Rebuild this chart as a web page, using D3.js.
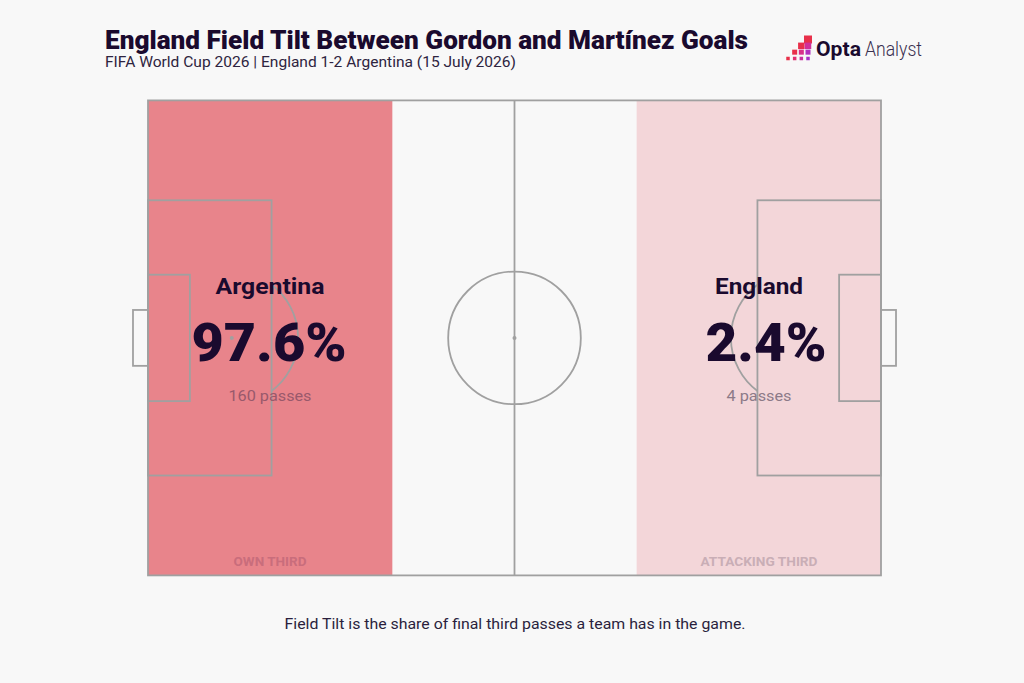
<!DOCTYPE html>
<html><head><meta charset="utf-8">
<script src="https://cdn.jsdelivr.net/npm/d3@7"></script>
<style>html,body{margin:0;padding:0;background:#f8f8f8}svg{display:block}text{font-family:Roboto,sans-serif}</style>
</head><body><svg id="c" width="1024" height="683"></svg>
<script>
const teams=["Argentina","England"];
const tiltPct=[97.6,2.4];
const passes=[160,4];
const zoneLabels=["OWN THIRD","ATTACKING THIRD"];
const zoneColors=["#e8848b","#f3d6d9"];
const thirds=[[0,35],[70,105]];
const title="England Field Tilt Between Gordon and Martínez Goals";
const subtitle="FIFA World Cup 2026 | England 1-2 Argentina (15 July 2026)";
const note="Field Tilt is the share of final third passes a team has in the game.";
const pitchLen=105,pitchWid=68;
const penBox=[17.7,39.4],sixBox=[6,18.1],goalW=8,goalD=2.15,circR=9.5,spot=12;
const ink="#1a0a2e",line="#a0a0a0";
const svg=d3.select("#c");
const x=d3.scaleLinear().domain([0,pitchLen]).range([148,881]);
const y=d3.scaleLinear().domain([0,pitchWid]).range([100.4,575.4]);
const rs=d3.scaleLinear().domain([0,pitchLen]).range([0,733]);
const my=pitchWid/2;
svg.selectAll(".third").data(thirds).join("rect")
 .attr("x",d=>x(d[0])).attr("y",y(0)).attr("width",d=>x(d[1])-x(d[0])).attr("height",y(pitchWid)-y(0))
 .attr("fill",(d,i)=>zoneColors[i]);
const g=svg.append("g").attr("fill","none").attr("stroke",line).attr("stroke-width",1.8);
const R=(x0,x1,y0,y1)=>g.append("rect").attr("x",x(x0)).attr("y",y(y0)).attr("width",x(x1)-x(x0)).attr("height",y(y1)-y(y0));
R(0,pitchLen,0,pitchWid);
g.append("line").attr("x1",x(pitchLen/2)).attr("x2",x(pitchLen/2)).attr("y1",y(0)).attr("y2",y(pitchWid));
g.append("circle").attr("cx",x(pitchLen/2)).attr("cy",y(my)).attr("r",rs(circR));
svg.append("circle").attr("cx",x(pitchLen/2)).attr("cy",y(my)).attr("r",2).attr("fill",line);
[0,1].forEach(s=>{
 const f=v=>s?pitchLen-v:v;
 const box=(d,w)=>{const a=[f(0),f(d)].sort(d3.ascending);R(a[0],a[1],my-w/2,my+w/2)};
 box(penBox[0],penBox[1]);box(sixBox[0],sixBox[1]);
 const a=[f(0),f(-goalD)].sort(d3.ascending);
 R(a[0],a[1],my-goalW/2,my+goalW/2);
 svg.append("circle").attr("cx",x(f(spot))).attr("cy",y(my)).attr("r",2).attr("fill",line);
 const ang=Math.acos((penBox[0]-spot)/circR);
 const arc=d3.arc().innerRadius(rs(circR)).outerRadius(rs(circR));
 const mid=s?-Math.PI/2:Math.PI/2;
 g.append("path").attr("transform",`translate(${x(f(spot))},${y(my)})`)
  .attr("d",arc({startAngle:mid-ang,endAngle:mid+ang}));
});
const T=(txt,px,py,size,weight,fill,anchor,len)=>{const t=svg.append("text").attr("x",px).attr("y",py).attr("font-size",size).attr("font-weight",weight).attr("fill",fill).attr("text-anchor",anchor||"start").text(txt);if(len)t.attr("textLength",len).attr("lengthAdjust","spacingAndGlyphs");return t};
T(title,105,49,25,900,ink,"start",643);
T(subtitle,105,67,15,400,"#2e2440","start",411);
T(note,515,629,15,400,"#2a1f3d","middle",461);
const cx=[270,759],pctCx=[269,766],lens=[109,88],pl=[155,121],nl=[83,65],zl=[73,117];
teams.forEach((t,i)=>{
 T(t,cx[i],294,22,700,ink,"middle",lens[i]);
 T(tiltPct[i].toFixed(1)+"%",pctCx[i],361,54,900,ink,"middle",pl[i]);
 T(passes[i]+" passes",cx[i],401,15,400,i?"#8c7a88":"#99596b","middle",nl[i]);
 T(zoneLabels[i],cx[i],566,12,700,i?"#c9aeb6":"#c96d7c","middle",zl[i]);
});
const logoCells=[[3,0,8,"#e8304a"],[2,1,6.5,"#e8304a"],[3,1,6.5,"#d0309a"],[1,2,5,"#e8304a"],[2,2,5,"#d8308a"],[3,2,5,"#b030c0"],[0,3,3.5,"#e8304a"],[1,3,3.5,"#e03070"],[2,3,3.5,"#c830a0"],[3,3,3.5,"#a830c8"]];
const lx=d3.scaleLinear().domain([0,3]).range([788,808]);
const ly=d3.scaleLinear().domain([0,3]).range([39.5,58.5]);
svg.selectAll(".lg").data(logoCells).join("rect")
 .attr("x",d=>lx(d[0])-d[2]/2).attr("y",d=>ly(d[1])-d[2]/2)
 .attr("width",d=>d[2]).attr("height",d=>d[2]).attr("fill",d=>d[3]);
T("Opta",816,56,20,700,ink,"start",45);
T("Analyst",865,56,20,300,"#3a3050","start",57);
</script></body></html>
